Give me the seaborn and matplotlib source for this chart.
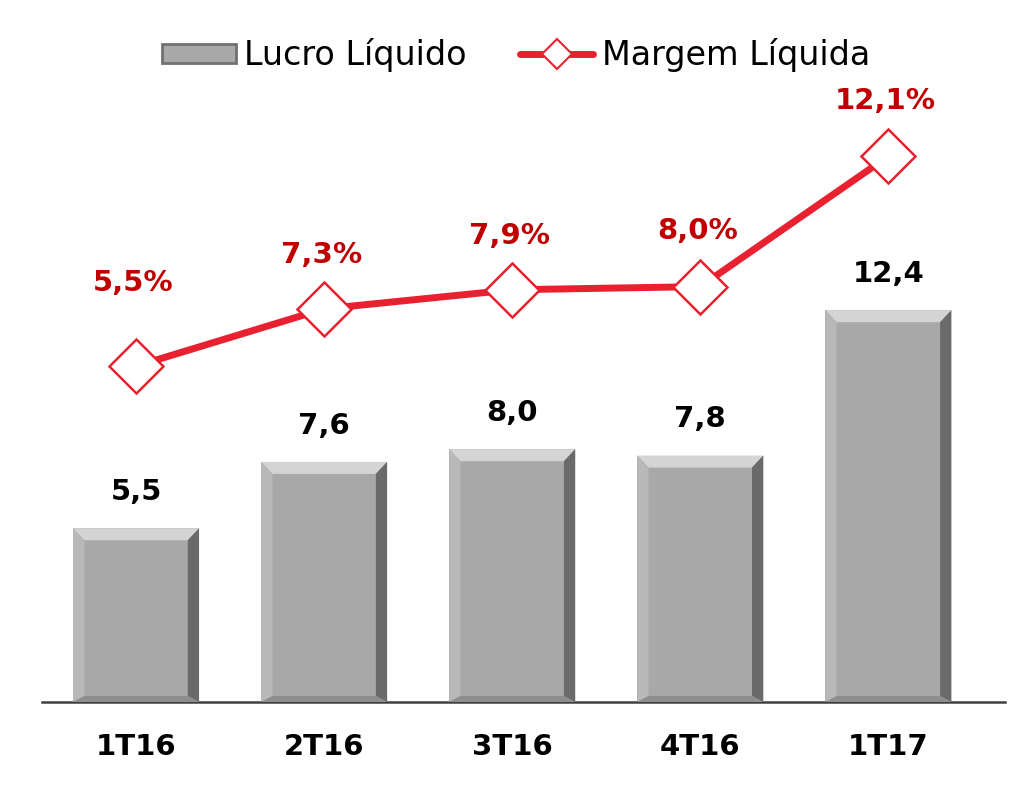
import numpy as np
import pandas as pd
import matplotlib
matplotlib.use("Agg")
import matplotlib.pyplot as plt
from matplotlib.patches import Polygon, Rectangle
from matplotlib.lines import Line2D
import seaborn as sns

quarters = ["1T16", "2T16", "3T16", "4T16", "1T17"]
lucro = [5.5, 7.6, 8.0, 7.8, 12.4]
margem = [5.5, 7.3, 7.9, 8.0, 12.1]
lucro_labels = ["5,5", "7,6", "8,0", "7,8", "12,4"]
margem_labels = ["5,5%", "7,3%", "7,9%", "8,0%", "12,1%"]
legend_names = ["Lucro Líquido", "Margem Líquida"]

sns.set_theme(style="white")
plt.rcParams['font.family'] = ['DejaVu Sans']

RED = "#E8202F"
DARKRED = "#C00000"
GRAY = "#A8A8A8"

fig = plt.figure(figsize=(10.19, 7.94), dpi=100)
ax = fig.add_axes([42/1019, 1 - 702/794, (1005-42)/1019, (702-60)/794])

df = pd.DataFrame({"q": quarters, "v": lucro})
sns.barplot(data=df, x="q", y="v", ax=ax, color=GRAY, width=0.67,
            saturation=1, edgecolor="none", zorder=2)

ax.set_xlim(-0.5, 4.62)
ax.set_ylim(0, 642/31.6)

# bevel effect on bars
bx = 0.06
by = 0.38
for p in ax.patches:
    x0 = p.get_x(); w = p.get_width(); h = p.get_height()
    x1 = x0 + w
    ax.add_patch(Polygon([[x0, h], [x1, h], [x1-bx, h-by], [x0+bx, h-by]],
                         closed=True, fc="#D4D4D4", ec="none", zorder=3))
    ax.add_patch(Polygon([[x1, h], [x1, 0], [x1-bx, by*0.5], [x1-bx, h-by]],
                         closed=True, fc="#6A6A6A", ec="none", zorder=3))
    ax.add_patch(Polygon([[x0, h], [x0, 0], [x0+bx, by*0.5], [x0+bx, h-by]],
                         closed=True, fc="#B8B8B8", ec="none", zorder=3))
    ax.add_patch(Polygon([[x0, 0], [x1, 0], [x1-bx, by*0.5], [x0+bx, by*0.5]],
                         closed=True, fc="#8E8E8E", ec="none", zorder=3))

for i, (v, lab) in enumerate(zip(lucro, lucro_labels)):
    ax.annotate(lab, (i, v), xytext=(0, 26), textcoords="offset points",
                ha="center", va="center", fontsize=21, fontweight="bold",
                color="black")

for s in ["top", "right", "left"]:
    ax.spines[s].set_visible(False)
ax.spines["bottom"].set_color("#404040")
ax.spines["bottom"].set_linewidth(1.8)
ax.set_yticks([])
ax.set_xlabel("")
ax.set_ylabel("")
ax.tick_params(axis="x", length=0, pad=22, labelsize=21, labelcolor="black")
for t in ax.get_xticklabels():
    t.set_fontweight("bold")

ax2 = ax.twinx()
sns.lineplot(x=quarters, y=margem, ax=ax2, color=RED, lw=5, marker="D",
             markersize=27, markerfacecolor="white", markeredgecolor=RED,
             markeredgewidth=1.8, zorder=4, sort=False)
ax2.set_ylim(-(702-541)/31.8, (541-60)/31.8)
ax2.set_xlim(-0.5, 4.62)
ax2.set_yticks([])
ax2.set_ylabel("")
for s in ["top", "right", "left", "bottom"]:
    ax2.spines[s].set_visible(False)

offs = [60, 39, 39, 40, 40]
for i, (v, lab) in enumerate(zip(margem, margem_labels)):
    ax2.annotate(lab, (i, v), xytext=(-2, offs[i]), textcoords="offset points",
                 ha="center", va="center", fontsize=21, fontweight="bold",
                 color=DARKRED)

handles = [Rectangle((0, 0), 1, 1, fc=GRAY, ec="#707070", lw=2),
           Line2D([0], [0], color=RED, lw=5, marker="D", markersize=15,
                  markerfacecolor="white", markeredgecolor=RED, markeredgewidth=1.5)]
leg = fig.legend(handles, legend_names, loc="center",
                 bbox_to_anchor=(516/1019, 1 - 55/794),
                 ncol=2, frameon=False, fontsize=24, handlelength=2.2,
                 handleheight=0.5, handletextpad=0.25, columnspacing=1.6)
for t in leg.get_texts():
    t.set_color("black")

fig.savefig("out.png", dpi=100)
